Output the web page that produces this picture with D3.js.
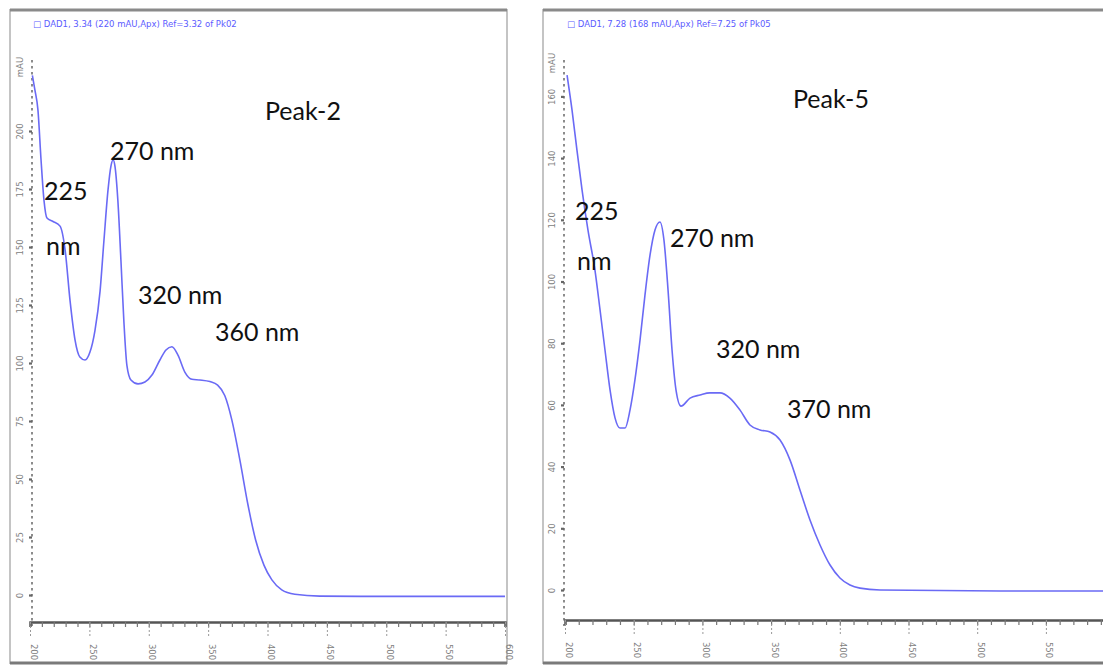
<!DOCTYPE html>
<html><head><meta charset="utf-8">
<script src="https://cdn.jsdelivr.net/npm/d3@7"></script>
<style>body{margin:0;background:#fff}svg{display:block}</style>
</head><body>
<svg id="c" width="1103" height="666"></svg>
<script>
// ---- data ----
const peak2Wavelength = [202,204,206.7,209.3,211.8,214.3,219.4,225.3,229.5,233.7,237.9,242,246.3,250.5,254.7,259,262.3,265.7,268.2,270,271.5,274,276.6,279,281.6,285,291,296.8,302.7,309.4,314.5,319.5,324.6,330.5,336.4,343,351.5,358,364,370,376.8,383.5,390,397,403.7,412,423,444,500,600];
const peak2Absorbance = [224,218,209,187.5,170,162.5,161,159,149,127,110,102.6,101.3,104.7,114,131,153,174.6,185,187.5,185,170,144,118.5,99,92.7,91,91.8,94.8,101.3,105.6,107,103.4,96,93,92.7,92,90.5,86,75.4,58,39,23.7,12.9,6.5,2.2,0.3,-0.5,-0.6,-0.6];
const peak5Wavelength = [201.5,205.1,208.7,212.4,216.7,221.8,225.5,229.1,232.8,236.4,240,243.7,247.3,250.9,254.6,258.2,261.9,265.5,269.1,272,275,277.9,280.8,284.4,291,298.3,305.5,312.8,320,327.4,334.6,341.9,349.2,356.5,363.8,371,378.3,385.6,392.9,400.1,407.4,414.7,429.3,516.6,600];
const peak5Absorbance = [166.9,155.6,142.6,129.7,116.7,103.7,90.8,77.8,64.8,55.8,52.5,52.5,58.3,68.1,81,95.6,108.6,116.7,119.3,113.5,97.2,77.8,64.8,59.6,62.2,63.2,63.9,63.9,62.2,58.3,53.5,51.9,51.2,48.6,42.1,32.4,22.7,14.6,8.1,3.9,1.6,0.6,0,-0.3,-0.3];
const xTickValues = [200,250,300,350,400,450,500,550,600];
const yTicksPeak2 = [0,25,50,75,100,125,150,175,200];
const yTicksPeak5 = [0,20,40,60,80,100,120,140,160];
const headers = ["\u25A1 DAD1, 3.34 (220 mAU,Apx) Ref=3.32 of Pk02", "\u25A1 DAD1, 7.28 (168 mAU,Apx) Ref=7.25 of Pk05"];
const peakTitles = ["Peak-2","Peak-5"];
const notes2 = [["270 nm",110,150],["225",44,190],["nm",46,245],["320 nm",138,294],["360 nm",215,331]];
const notes5 = [["270 nm",670,237],["225",575,210],["nm",577,260],["320 nm",716,348],["370 nm",787,408]];

const svg = d3.select("#c");
const W = 1103;

function panel(o){
  const g = svg.append("g");
  // frame
  g.append("rect").attr("x",o.fx).attr("y",10).attr("width",o.fw).attr("height",653)
    .attr("fill","#fff").attr("stroke","#c4c4c4").attr("stroke-width",2);
  g.append("line").attr("x1",o.fx).attr("x2",o.fx+o.fw).attr("y1",10).attr("y2",10)
    .attr("stroke","#8a8a8a").attr("stroke-width",3);
  g.append("line").attr("x1",o.fx).attr("x2",o.fx+o.fw).attr("y1",663).attr("y2",663)
    .attr("stroke","#7a7a7a").attr("stroke-width",3);

  const x = d3.scaleLinear([200,600],o.xr);
  const y = d3.scaleLinear(o.yd,o.yr);

  // header
  g.append("text").attr("x",o.hx).attr("y",27).attr("fill","#5b5bff")
    .attr("font-family","DejaVu Sans").attr("font-size",8.5).text(o.header);

  // y axis: dotted line with minor ticks
  const yTop = 60, yBot = 626;
  g.append("line").attr("x1",o.ax).attr("x2",o.ax).attr("y1",yTop).attr("y2",yBot)
    .attr("stroke","#8c8c8c").attr("stroke-width",2).attr("stroke-dasharray","2.5,3.5");
  const ya = d3.axisLeft(y).tickValues(o.yt).tickSize(3).tickFormat(d=>d);
  const yg = g.append("g").attr("transform",`translate(${o.ax},0)`).call(ya);
  yg.select(".domain").remove();
  yg.selectAll(".tick line").attr("stroke","#666").attr("stroke-width",2.2);
  yg.selectAll(".tick text").attr("fill","#808080").attr("font-size",8.5)
    .attr("font-family","DejaVu Sans").attr("x",null).attr("dy",null)
    .attr("text-anchor","middle")
    .attr("transform","translate(-9,0) rotate(-90)");
  g.append("text").attr("transform",`translate(${o.ax-9},${o.mauY}) rotate(-90)`)
    .attr("text-anchor","middle").attr("fill","#808080").attr("font-size",8.5)
    .attr("font-family","DejaVu Sans").text("mAU");

  // x axis
  const xa = d3.axisBottom(x).tickValues(d3.range(200,601,10)).tickSize(5).tickFormat("");
  const xg = g.append("g").attr("transform",`translate(0,${o.axY})`).call(xa);
  xg.select(".domain").attr("stroke","#555").attr("stroke-width",2.5);
  xg.selectAll(".tick line").attr("stroke","#777").attr("stroke-width",1.2);
  const vis = xTickValues.filter(v => x(v) < W - 6);
  const xm = g.append("g").attr("transform",`translate(0,${o.axY})`)
    .call(d3.axisBottom(x).tickValues(vis).tickSize(16).tickFormat(d=>d));
  xm.select(".domain").remove();
  xm.selectAll(".tick line").attr("stroke","#999").attr("stroke-dasharray","2,2");
  xm.selectAll(".tick text").attr("fill","#808080").attr("font-size",8.5).attr("font-family","DejaVu Sans")
    .attr("y",null).attr("dy",null).attr("text-anchor","middle")
    .attr("transform","translate(0,30) rotate(90)");

  // curve
  const data = o.wl.map((w,i)=>[w,o.ab[i]]);
  g.append("path").datum(data)
    .attr("d",d3.line().x(d=>x(d[0])).y(d=>y(d[1])).curve(d3.curveMonotoneX))
    .attr("fill","none").attr("stroke","#6a6af5").attr("stroke-width",1.6);

  // annotations
  const tf = "Lato, 'Open Sans', sans-serif";
  g.append("text").attr("x",o.tx).attr("y",o.ty).attr("dominant-baseline","central")
    .attr("font-family",tf).attr("font-size",25).attr("fill","#111").text(o.title);
  o.notes.forEach(n=>{
    g.append("text").attr("x",n[1]).attr("y",n[2]).attr("dominant-baseline","central")
      .attr("font-family",tf).attr("font-size",25).attr("fill","#111").text(n[0]);
  });
}

panel({fx:10,fw:497,xr:[30,505],yd:[0,200],yr:[595,131],yt:yTicksPeak2,ax:32,mauY:67,axY:622,
  hx:33,header:headers[0],wl:peak2Wavelength,ab:peak2Absorbance,title:peakTitles[0],tx:265,ty:110,notes:notes2});
panel({fx:543,fw:580,xr:[565,1114.6],yd:[0,160],yr:[590,96.4],yt:yTicksPeak5,ax:564,mauY:63,axY:620,
  hx:567,header:headers[1],wl:peak5Wavelength,ab:peak5Absorbance,title:peakTitles[1],tx:793,ty:98,notes:notes5});
</script>
</body></html>
